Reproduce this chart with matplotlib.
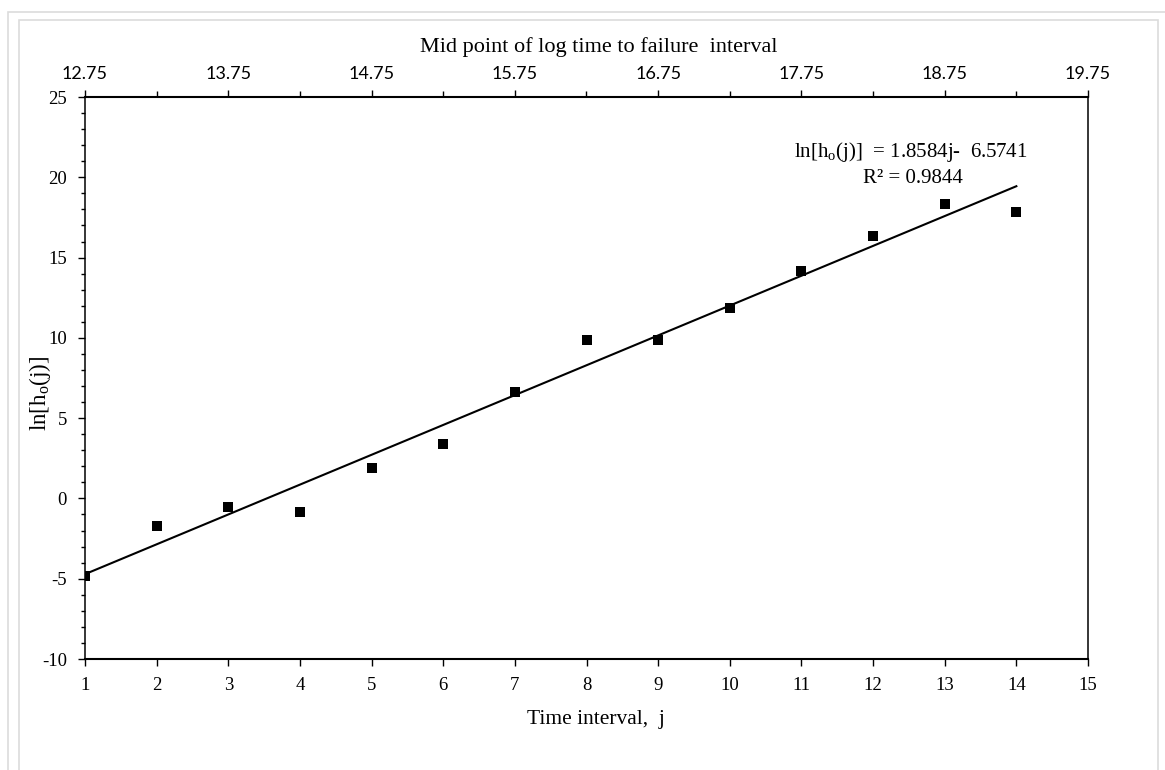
import matplotlib
matplotlib.use("Agg")
import matplotlib.pyplot as plt
from matplotlib.patches import Rectangle
from matplotlib.ticker import MultipleLocator, FixedLocator, FormatStrFormatter
import numpy as np

# Observed log hazard per time interval
j_values = [1, 2, 3, 4, 5, 6, 7, 8, 9, 10, 11, 12, 13, 14]
ln_hazard = [-4.83, -1.73, -0.55, -0.86, 1.91, 3.36, 6.64, 9.86, 9.88,
             11.87, 14.18, 16.36, 18.31, 17.85]

# Linear trend line
slope = 1.8584
intercept = -6.5741
r_squared = 0.9844

# Secondary (top) axis: mid point of log time to failure interval
top_ticks = [12.75, 13.75, 14.75, 15.75, 16.75, 17.75, 18.75, 19.75]

plt.rcParams["font.family"] = ["Liberation Serif", "DejaVu Serif"]
plt.rcParams["mathtext.fontset"] = "custom"
plt.rcParams["mathtext.rm"] = "Liberation Serif"
plt.rcParams["mathtext.it"] = "Liberation Serif:italic"
plt.rcParams["axes.unicode_minus"] = False

W, H = 1165, 770
fig = plt.figure(figsize=(W / 100, H / 100), dpi=100)

# Light grey page frames
fig.add_artist(Rectangle((8 / W, -0.05), (W + 20) / W, 1 - 12 / H + 0.05,
                         transform=fig.transFigure, fill=False,
                         edgecolor="#dcdcdc", lw=1.2))
fig.add_artist(Rectangle((19 / W, -0.05), (1158 - 19) / W, 1 - 20 / H + 0.05,
                         transform=fig.transFigure, fill=False,
                         edgecolor="#dcdcdc", lw=1.2))

left, right = 85 / W, 1088 / W
bottom, top = 1 - 659 / H, 1 - 97 / H
ax = fig.add_axes([left, bottom, right - left, top - bottom])

ax.scatter(j_values, ln_hazard, marker="s", s=42, color="black", zorder=3,
           linewidths=0)
jj = np.array([j_values[0], j_values[-1]])
ax.plot(jj, slope * jj + intercept, color="black", lw=1.5, zorder=2)

ax.set_xlim(1, 15)
ax.set_ylim(-10, 25)
ax.xaxis.set_major_locator(MultipleLocator(1))
ax.yaxis.set_major_locator(MultipleLocator(5))
ax.yaxis.set_minor_locator(MultipleLocator(1))

for s in ("left", "right"):
    ax.spines[s].set_linewidth(1.1)
for s in ("top", "bottom"):
    ax.spines[s].set_linewidth(1.5)

ax.tick_params(axis="both", which="major", direction="out", length=5,
               width=1.0, labelsize=13.5, pad=8, colors="black")
ax.tick_params(axis="y", which="minor", direction="out", length=3, width=1.0)

ax.set_xlabel("Time interval,  j", fontsize=15.5, va="center")
ax.xaxis.set_label_coords(0.5095, -0.1085)
ax.set_ylabel(r"ln[h$_\mathrm{o}$(j)]", fontsize=16.5, va="center")
ax.yaxis.set_label_coords(-0.0449, 0.473)

# Top axis
ax2 = ax.twiny()
ax2.set_xlim(top_ticks[0], top_ticks[-1])
ax2.xaxis.set_major_locator(FixedLocator(top_ticks))
ax2.xaxis.set_minor_locator(FixedLocator([t + 0.5 for t in top_ticks[:-1]]))
ax2.xaxis.set_major_formatter(FormatStrFormatter("%.2f"))
ax2.tick_params(axis="x", which="major", direction="out", length=5, width=1.0,
                labelsize=13, pad=6)
ax2.tick_params(axis="x", which="minor", direction="out", length=4, width=1.0)
for lbl in ax2.get_xticklabels():
    lbl.set_fontfamily(["Lato", "DejaVu Sans"])
ax2.set_xlabel("Mid point of log time to failure  interval", fontsize=16,
               va="center")
ax2.xaxis.set_label_coords(0.5125, 1.089)
for s in ax2.spines.values():
    s.set_visible(False)

# Trend line equation
ax.text(12.53, 21.55, r"ln[h$_\mathrm{o}$(j)]  = %.4fj-  %.4f" % (slope, -intercept),
        fontsize=15, ha="center", va="center")
ax.text(12.56, 19.95, "R² = %.4f" % r_squared, fontsize=15,
        ha="center", va="center")

fig.savefig("out.png", dpi=100)
